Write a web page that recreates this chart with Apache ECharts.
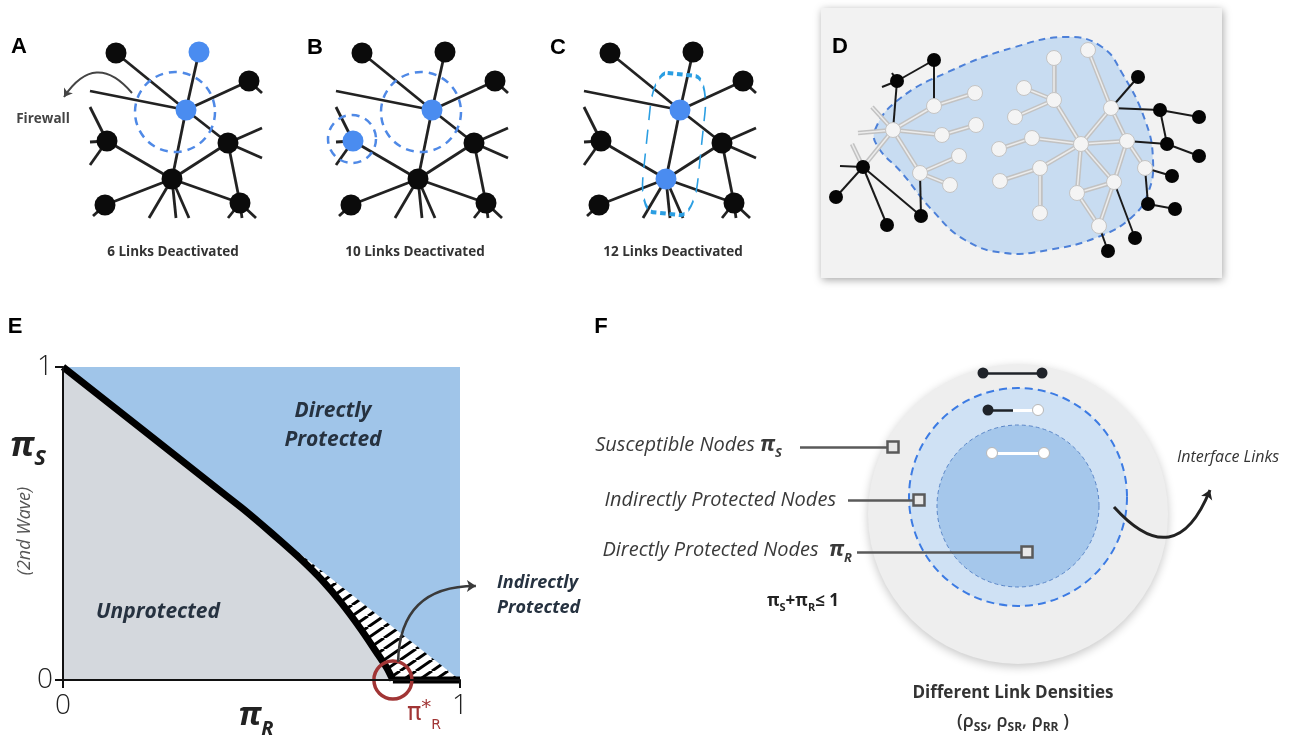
<!DOCTYPE html>
<html>
<head>
<meta charset="utf-8">
<script src="https://cdn.jsdelivr.net/npm/echarts@6/dist/echarts.min.js"></script>
<style>
  html, body { margin: 0; padding: 0; background: #fff; }
  #main { width: 1293px; height: 742px; }
</style>
</head>
<body>
<div id="main"></div>
<script>
/*
    Firewall / link-deactivation figure, panels A-F
*/

// ---- A, B, C : the same small network, local coords in a 190 x 190 box ----
const netNodes = [[36,13],[119,12],[169,41],[106,70],[27,101],[148,103],[92,139],[25,165],[160,163]];
const netEdges = [[0,3],[1,3],[2,3],[3,5],[3,6],[4,6],[5,6],[6,7],[5,8],[6,8]];
// links that leave the box: [node, end point]
const netStubs = [[3,[10,51]],[4,[10,67]],[4,[10,102]],[4,[10,125]],[2,[182,53]],[5,[182,88]],[5,[182,118]],
  [6,[69,178]],[6,[96,178]],[6,[109,178]],[7,[13,176]],[8,[148,178]],[8,[162,178]],[8,[176,178]]];
const panelLeft = [80, 326, 574];
const panelCaptions = ['6 Links Deactivated', '10 Links Deactivated', '12 Links Deactivated'];
const panelBlue = [[1,3],[3,4],[3,6]];
// dashed firewall rings: [x, y, diameter]
const panelRings = [[[95,72,80]], [[95,72,80],[26,99,48]], []];
const panelBoxC = [100,104];
const firewallArrow = [[52,53],[-16,57]];

// ---- D : protected cluster ----
const dWhite = [[72,122],[113,98],[154,85],[121,127],[155,117],[99,165],[138,148],[129,177],
  [233,50],[267,42],[203,80],[233,92],[194,109],[211,130],[178,141],[260,136],[290,100],
  [306,133],[324,160],[219,160],[179,173],[293,174],[256,185],[219,205],[278,218]];
const dBlack = [[113,52],[76,73],[42,159],[15,189],[66,217],[100,208],[317,69],[339,102],
  [378,109],[346,136],[378,148],[351,168],[327,196],[354,201],[314,230],[287,243]];
const dStubs = [[61,79],[71,65],[37,125],[51,99],[19,158],[31,136]];
const dGrayLinks = [['w0','w1'],['w1','w2'],['w0','w3'],['w3','w4'],['w0','w5'],['w5','w6'],['w5','w7'],
  ['w8','w11'],['w10','w11'],['w11','w12'],['w11','w15'],['w9','w16'],['w16','w15'],['w13','w14'],
  ['w13','w15'],['w15','w17'],['w16','w17'],['w15','w19'],['w19','w20'],['w19','w23'],['w15','w22'],
  ['w22','w21'],['w15','w21'],['w17','w21'],['w17','w18'],['w21','w24'],['w22','w24'],
  ['w0','s2'],['w0','s3'],['w0','b2'],['b2','s5']];
const dBlackLinks = [['b0','b1'],['b0','w1'],['b1','w0'],['b1','s0'],['b1','s1'],['b2','b3'],['b2','b4'],
  ['b2','b5'],['b2','s4'],['w5','b5'],['b6','w16'],['w16','b7'],['b7','b8'],['b7','b9'],['b9','b10'],
  ['w17','b9'],['b11','w18'],['b12','w18'],['b12','b13'],['b14','w21'],['b15','w24']];
const dBlob = [[54,122],[77,92],[127,64],[194,39],[247,29],[281,39],[301,65],[324,112],[332,152],
  [327,185],[311,209],[277,229],[227,242],[184,245],[144,232],[111,202],[81,165],[57,139]];

// ---- E : phase diagram ----
const diagX = [0, 1];
const diagY = [1, 0];
const curveX = [0, 0.2, 0.35, 0.45, 0.5, 0.55, 0.6, 0.65, 0.7, 0.75, 0.79, 0.815, 0.831];
const curveY = [1, 0.8, 0.65, 0.55, 0.497, 0.442, 0.385, 0.322, 0.248, 0.163, 0.088, 0.04, 0];
const floorX = [0.831, 1];
const floorY = [0, 0];
const criticalPoint = [0.831, 0];
const indirectArrow = [[0.844, 0.058], [1.040, 0.300]];

// ---- F : node classes ----
const fRings = [[428,174,150],[428,157,109],[428,166,81]];
const fDarkLinks = [[[393,33],[452,33]], [[398,70],[423,70]]];
const fLightLinks = [[[423,70],[448,70]], [[402,113],[454,113]]];
const fDarkDots = [[393,33],[452,33],[398,70]];
const fLightDots = [[448,70],[402,113],[454,113]];
const fLeaders = [[[210,107],[303,107]], [[258,160],[329,160]], [[267,212],[437,212]]];
const fInterfaceArrow = [[524,167],[620,150]];

function dPt(id) {
    const i = +id.slice(1);
    return id[0] === 'w' ? dWhite[i] : id[0] === 'b' ? dBlack[i] : dStubs[i];
}

// hatch pattern for the indirectly protected wedge
const hatch = document.createElement('canvas');
hatch.width = 16; hatch.height = 11;
const hg = hatch.getContext('2d');
hg.fillStyle = '#fff'; hg.fillRect(0, 0, 16, 11);
hg.strokeStyle = '#000'; hg.lineWidth = 3;
hg.beginPath();
hg.moveTo(0, 11); hg.lineTo(16, 0);
hg.moveTo(-16, 11); hg.lineTo(0, 0);
hg.moveTo(16, 11); hg.lineTo(32, 0);
hg.stroke();

const grid = [], xAxis = [], yAxis = [], series = [];
function hiddenAxes(g, xmax, ymax) {
    xAxis.push({ gridIndex: g, type: 'value', min: 0, max: xmax, show: false });
    yAxis.push({ gridIndex: g, type: 'value', min: 0, max: ymax, show: false, inverse: true });
}

// 1、A-C networks
panelLeft.forEach((left, p) => {
    grid.push({ left: left, top: 40, width: 190, height: 190 });
    hiddenAxes(p, 190, 190);
    const links = netEdges.map(([a, b]) => ({ coords: [netNodes[a], netNodes[b]] }))
        .concat(netStubs.map(([a, pt]) => ({ coords: [netNodes[a], pt] })));
    series.push({
        type: 'lines', coordinateSystem: 'cartesian2d', xAxisIndex: p, yAxisIndex: p,
        clip: false, silent: true, z: 2,
        lineStyle: { color: '#222', width: 2.8, opacity: 1 },
        data: links
    });
    series.push({
        type: 'scatter', xAxisIndex: p, yAxisIndex: p, clip: false, silent: true, z: 3,
        symbolSize: 21,
        data: netNodes.map((v, i) => ({ value: v, itemStyle: { opacity: 1, color: panelBlue[p].includes(i) ? '#4a8cf0' : '#0b0b0b' } }))
    });
    if (panelRings[p].length) {
        series.push({
            type: 'scatter', xAxisIndex: p, yAxisIndex: p, clip: false, silent: true, z: 4,
            symbolSize: v => v[2],
            itemStyle: { opacity: 1, color: 'rgba(0,0,0,0)', borderColor: '#4f89e6', borderWidth: 2.5, borderType: [8, 6] },
            data: panelRings[p]
        });
    }
});
series.push({
    type: 'scatter', xAxisIndex: 2, yAxisIndex: 2, clip: false, silent: true, z: 4,
    symbol: 'roundRect', symbolSize: [55, 140], symbolRotate: -6,
    itemStyle: { opacity: 1, color: 'rgba(0,0,0,0)', borderColor: '#2b9ee2', borderWidth: 2.5, borderType: [9, 6] },
    data: [panelBoxC]
});
series.push({
    type: 'lines', coordinateSystem: 'cartesian2d', xAxisIndex: 0, yAxisIndex: 0, clip: false, silent: true, z: 5,
    symbol: ['none', 'arrow'], symbolSize: 8,
    lineStyle: { color: '#444', width: 2, opacity: 1, curveness: -0.66 },
    data: [{ coords: firewallArrow }]
});

// 2、D cluster
grid.push({ left: 821, top: 8, width: 401, height: 270, show: true, backgroundColor: '#f2f2f2', borderWidth: 0,
    shadowBlur: 8, shadowColor: 'rgba(0,0,0,0.35)', shadowOffsetY: 2, shadowOffsetX: 1 });
hiddenAxes(3, 401, 270);
series.push({
    type: 'custom', xAxisIndex: 3, yAxisIndex: 3, silent: true, z: 1, data: [[0, 0]],
    renderItem: (params, api) => ({
        type: 'polygon',
        shape: { points: dBlob.map(pt => api.coord(pt)), smooth: 0.45 },
        style: { fill: '#c8dcf1', stroke: '#4d80d8', lineWidth: 2, lineDash: [7, 5] }
    })
});
series.push({
    type: 'lines', coordinateSystem: 'cartesian2d', xAxisIndex: 3, yAxisIndex: 3, silent: true, z: 2,
    lineStyle: { color: '#c2c2c2', width: 4.5, opacity: 1 },
    data: dGrayLinks.map(([a, b]) => ({ coords: [dPt(a), dPt(b)] }))
});
series.push({
    type: 'lines', coordinateSystem: 'cartesian2d', xAxisIndex: 3, yAxisIndex: 3, silent: true, z: 3,
    lineStyle: { color: '#ececec', width: 1.5, opacity: 1 },
    data: dGrayLinks.map(([a, b]) => ({ coords: [dPt(a), dPt(b)] }))
});
series.push({
    type: 'lines', coordinateSystem: 'cartesian2d', xAxisIndex: 3, yAxisIndex: 3, silent: true, z: 3,
    lineStyle: { color: '#1a1a1a', width: 2, opacity: 1 },
    data: dBlackLinks.map(([a, b]) => ({ coords: [dPt(a), dPt(b)] }))
});
series.push({
    type: 'scatter', xAxisIndex: 3, yAxisIndex: 3, silent: true, z: 5, symbolSize: 15,
    itemStyle: { opacity: 1, color: '#f4f4f4', borderColor: '#c4c4c4', borderWidth: 1 },
    data: dWhite
});
series.push({
    type: 'scatter', xAxisIndex: 3, yAxisIndex: 3, silent: true, z: 5, symbolSize: 14,
    itemStyle: { opacity: 1, color: '#050505' },
    data: dBlack
});

// 3、E phase diagram
grid.push({ left: 63, top: 367, width: 397, height: 313, show: true, backgroundColor: '#a0c5e9', borderWidth: 0 });
const eAxisBase = {
    gridIndex: 4, type: 'value', min: 0, max: 1, interval: 1, z: 10,
    axisLine: { show: true, onZero: false, lineStyle: { color: '#111', width: 2 } },
    axisTick: { show: true, length: 8, lineStyle: { color: '#111', width: 2 } },
    splitLine: { show: false }
};
xAxis.push(Object.assign({}, eAxisBase, {
    axisLabel: { fontSize: 28, color: '#222', fontFamily: 'Open Sans', fontWeight: 300, margin: 12 }
}));
yAxis.push(Object.assign({}, eAxisBase, {
    axisLabel: { fontSize: 28, color: '#222', fontFamily: 'Open Sans', fontWeight: 300, margin: 10 }
}));
series.push({
    type: 'line', xAxisIndex: 4, yAxisIndex: 4, silent: true, z: 1, symbol: 'none',
    lineStyle: { width: 0 },
    areaStyle: { color: { image: hatch, repeat: 'repeat' }, opacity: 1 },
    data: diagX.map((x, i) => [x, diagY[i]])
});
series.push({
    type: 'line', xAxisIndex: 4, yAxisIndex: 4, silent: true, z: 3, symbol: 'none', clip: false,
    smooth: 0.25,
    lineStyle: { color: '#000', width: 7, join: 'round' },
    areaStyle: { color: '#d4d8dd', opacity: 1 },
    data: curveX.map((x, i) => [x, curveY[i]])
});
series.push({
    type: 'line', xAxisIndex: 4, yAxisIndex: 4, silent: true, z: 3, symbol: 'none', clip: false,
    lineStyle: { color: '#000', width: 7 },
    data: floorX.map((x, i) => [x, floorY[i]])
});
series.push({
    type: 'scatter', xAxisIndex: 4, yAxisIndex: 4, silent: true, z: 6, clip: false, symbolSize: 38,
    itemStyle: { opacity: 1, color: 'rgba(0,0,0,0)', borderColor: '#a13535', borderWidth: 3.5 },
    data: [criticalPoint]
});
series.push({
    type: 'lines', coordinateSystem: 'cartesian2d', xAxisIndex: 4, yAxisIndex: 4, clip: false, silent: true, z: 7,
    symbol: ['none', 'arrow'], symbolSize: 9,
    lineStyle: { color: '#3a3a3a', width: 2.5, opacity: 1, curveness: 0.49 },
    data: [{ coords: indirectArrow }]
});

// 4、F node classes
grid.push({ left: 590, top: 340, width: 640, height: 400 });
hiddenAxes(5, 640, 400);
const ringStyles = [
    { fill: '#eeeeee', shadowBlur: 10, shadowColor: 'rgba(0,0,0,0.22)', shadowOffsetY: 3 },
    { fill: '#cfe1f4', stroke: '#3c7be3', lineWidth: 2, lineDash: [8, 5] },
    { fill: '#a5c7eb', stroke: '#5a86c8', lineWidth: 1, lineDash: [4, 3] }
];
series.push({
    type: 'custom', xAxisIndex: 5, yAxisIndex: 5, silent: true, z: 1, data: fRings,
    renderItem: (params, api) => {
        const c = api.coord([api.value(0), api.value(1)]);
        const r = Math.abs(api.size([api.value(2), 0])[0]);
        return { type: 'circle', shape: { cx: c[0], cy: c[1], r: r }, style: ringStyles[params.dataIndex] };
    }
});
series.push({
    type: 'lines', coordinateSystem: 'cartesian2d', xAxisIndex: 5, yAxisIndex: 5, silent: true, z: 3,
    lineStyle: { color: '#1f2329', width: 2.5, opacity: 1 },
    data: fDarkLinks.map(c => ({ coords: c }))
});
series.push({
    type: 'lines', coordinateSystem: 'cartesian2d', xAxisIndex: 5, yAxisIndex: 5, silent: true, z: 3,
    lineStyle: { color: '#ffffff', width: 3, opacity: 1 },
    data: fLightLinks.map(c => ({ coords: c }))
});
series.push({
    type: 'scatter', xAxisIndex: 5, yAxisIndex: 5, silent: true, z: 4, symbolSize: 11,
    itemStyle: { opacity: 1, color: '#1f2329' }, data: fDarkDots
});
series.push({
    type: 'scatter', xAxisIndex: 5, yAxisIndex: 5, silent: true, z: 4, symbolSize: 11,
    itemStyle: { opacity: 1, color: '#ffffff', borderColor: '#b8b8b8', borderWidth: 1 }, data: fLightDots
});
series.push({
    type: 'lines', coordinateSystem: 'cartesian2d', xAxisIndex: 5, yAxisIndex: 5, silent: true, z: 5,
    lineStyle: { color: '#5a5a5a', width: 2.5, opacity: 1 },
    data: fLeaders.map(c => ({ coords: c }))
});
series.push({
    type: 'scatter', xAxisIndex: 5, yAxisIndex: 5, silent: true, z: 6, symbol: 'rect', symbolSize: 11,
    itemStyle: { opacity: 1, color: '#e8e8e8', borderColor: '#5a5a5a', borderWidth: 2.5 },
    data: fLeaders.map(c => c[1])
});
series.push({
    type: 'lines', coordinateSystem: 'cartesian2d', xAxisIndex: 5, yAxisIndex: 5, clip: false, silent: true, z: 7,
    symbol: ['none', 'arrow'], symbolSize: 9,
    lineStyle: { color: '#222', width: 3, opacity: 1, curveness: -0.8 },
    data: [{ coords: fInterfaceArrow }]
});

// 5、texts
function txt(x, y, text, font, fill, extra) {
    return Object.assign({ type: 'text', x: x, y: y, silent: true, z: 50,
        style: Object.assign({ text: text, font: font, fill: fill || '#222', align: 'center', verticalAlign: 'middle' },
            (extra && extra.style) || {}) }, extra && extra.el);
}
const letterFont = 'bold 22px "Liberation Sans", Arial, sans-serif';
const OS = '"Open Sans", sans-serif';
const labelRich = {
    n: { fontSize: 20, fontStyle: 'italic', fontFamily: 'Open Sans' },
    p: { fontSize: 21, fontWeight: 'bold', fontStyle: 'italic', fontFamily: 'Open Sans' },
    s: { fontSize: 13, fontWeight: 'bold', fontStyle: 'italic', fontFamily: 'Open Sans', padding: [16, 0, 0, 0] }
};
const graphic = [
    txt(19, 47, 'A', letterFont, '#000'),
    txt(315, 48, 'B', letterFont, '#000'),
    txt(558, 48, 'C', letterFont, '#000'),
    txt(840, 47, 'D', letterFont, '#000'),
    txt(15, 327, 'E', letterFont, '#000'),
    txt(601, 327, 'F', letterFont, '#000'),
    txt(43, 119, 'Firewall', 'bold 13.5px ' + OS, '#444'),
    txt(173, 252, panelCaptions[0], 'bold 13.5px ' + OS, '#333'),
    txt(415, 252, panelCaptions[1], 'bold 13.5px ' + OS, '#333'),
    txt(673, 252, panelCaptions[2], 'bold 13.5px ' + OS, '#333'),
    txt(333, 426, 'Directly\nProtected', 'italic bold 21px ' + OS, '#263240', { style: { lineHeight: 29 } }),
    txt(158, 612, 'Unprotected', 'italic bold 21px ' + OS, '#263240'),
    txt(497, 595, 'Indirectly\nProtected', 'italic bold 18px ' + OS, '#263240', { style: { lineHeight: 25, align: 'left' } }),
    txt(28, 446, '{p|π}{s|S}', 'italic bold 34px ' + OS, '#222', { style: { rich: {
        p: { fontSize: 34, fontWeight: 'bold', fontStyle: 'italic', fontFamily: 'Open Sans' },
        s: { fontSize: 22, fontWeight: 'bold', fontStyle: 'italic', fontFamily: 'Open Sans', padding: [26, 0, 0, 0] } } } }),
    txt(25, 531, '(2nd Wave)', 'italic 18px ' + OS, '#555', { el: { rotation: Math.PI / 2 } }),
    txt(256, 716, '{p|π}{s|R}', 'italic bold 32px ' + OS, '#222', { style: { rich: {
        p: { fontSize: 32, fontWeight: 'bold', fontStyle: 'italic', fontFamily: 'Open Sans' },
        s: { fontSize: 20, fontWeight: 'bold', fontStyle: 'italic', fontFamily: 'Open Sans', padding: [26, 0, 0, 0] } } } }),
    txt(424, 714, '{p|π}{a|*}{s|R}', '24px "DejaVu Sans"', '#a13535', { style: { rich: {
        p: { fontSize: 24, fontFamily: 'DejaVu Sans' },
        a: { fontSize: 20, fontFamily: 'DejaVu Sans', padding: [0, 0, 12, 0] },
        s: { fontSize: 14, fontFamily: 'DejaVu Sans', padding: [22, 0, 0, 0] } } } }),
    txt(782, 445, '{n|Susceptible Nodes }{p|π}{s|S}', 'italic 20px ' + OS, '#3a3a3a', { style: { align: 'right', rich: labelRich } }),
    txt(836, 500, 'Indirectly Protected Nodes', 'italic 20px ' + OS, '#3a3a3a', { style: { align: 'right' } }),
    txt(852, 550, '{n|Directly Protected Nodes  }{p|π}{s|R}', 'italic 20px ' + OS, '#3a3a3a', { style: { align: 'right', rich: labelRich } }),
    txt(803, 601, '{b|π}{s|S}{b|+π}{s|R}{b|≤ 1}', 'bold 17px ' + OS, '#222', { style: { rich: {
        b: { fontSize: 17, fontWeight: 'bold', fontFamily: 'Open Sans' },
        s: { fontSize: 11, fontWeight: 'bold', fontFamily: 'Open Sans', padding: [14, 0, 0, 0] } } } }),
    txt(1177, 457, 'Interface Links', 'italic 16px ' + OS, '#333', { style: { align: 'left' } }),
    txt(1013, 693, 'Different Link Densities', 'bold 17px ' + OS, '#333'),
    txt(1013, 722, '{m|(ρ}{s|SS}{m|, ρ}{s|SR}{m|, ρ}{s|RR}{m| )}', '18px ' + OS, '#333', { style: { rich: {
        m: { fontSize: 18, fontWeight: 600, fontFamily: 'Open Sans' },
        s: { fontSize: 12, fontWeight: 'bold', fontFamily: 'Open Sans', padding: [12, 0, 0, 0] } } } })
];

const myChart = echarts.init(document.getElementById('main'));
const option = {
    animation: false,
    grid: grid,
    xAxis: xAxis,
    yAxis: yAxis,
    series: series,
    graphic: graphic
};
option && myChart.setOption(option, true);
</script>
</body>
</html>
